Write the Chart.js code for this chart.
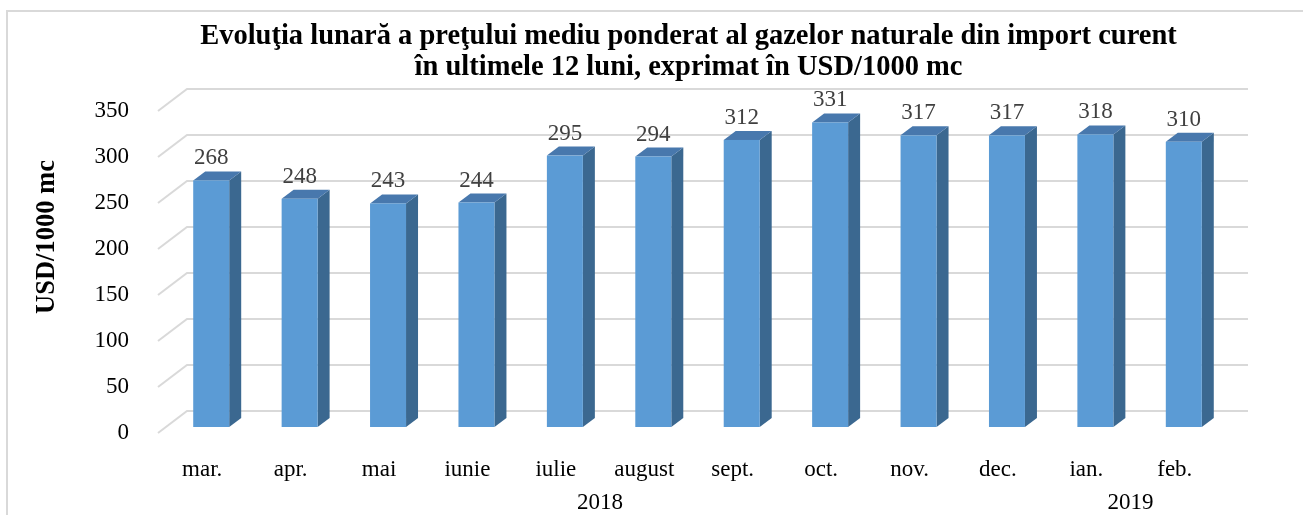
<!DOCTYPE html>
<html>
<head>
<meta charset="utf-8">
<script src="https://cdn.jsdelivr.net/npm/chart.js@4.4.0/dist/chart.umd.min.js"></script>
<style>
    html, body { margin: 0; padding: 0; background: #fff; }
    canvas { display: block; }
</style>
</head>
<body>
<canvas id="gasChart" width="1303" height="515"></canvas>
<script>
const months = ['mar.', 'apr.', 'mai', 'iunie', 'iulie', 'august', 'sept.', 'oct.', 'nov.', 'dec.', 'ian.', 'feb.'];
const prices = [268, 248, 243, 244, 295, 294, 312, 331, 317, 317, 318, 310];
const years = ['2018', '2019'];
const yearFirst = [0, 10];
const yearLast = [9, 11];
const yTicks = [0, 50, 100, 150, 200, 250, 300, 350];
const titleLines = [
    'Evoluţia lunară a preţului mediu ponderat al gazelor naturale din import curent',
    'în ultimele 12 luni, exprimat în USD/1000 mc'
];
const yTitle = 'USD/1000 mc';

const SERIF = '"Liberation Serif", "Times New Roman", serif';
// depth of the back wall and of each bar
const WALL = { dx: 29, dy: 22 };
const BAR = { dx: 12, dy: 9, shiftX: 9, shiftY: 6 };

const frame3d = {
    id: 'frame3d',
    beforeDraw(chart) {
        const ctx = chart.ctx;
        ctx.save();
        ctx.fillStyle = '#fff';
        ctx.fillRect(0, 0, chart.width, chart.height);
        ctx.strokeStyle = '#D9D9D9';
        ctx.lineWidth = 2;
        ctx.strokeRect(7, 11, chart.width + 20, chart.height + 20);
        ctx.restore();
    },
    beforeDatasetsDraw(chart) {
        const { ctx, chartArea } = chart;
        const y = chart.scales.y;
        ctx.save();
        ctx.strokeStyle = '#D9D9D9';
        ctx.lineWidth = 2;
        yTicks.forEach(v => {
            const py = y.getPixelForValue(v);
            ctx.beginPath();
            ctx.moveTo(chartArea.left, py);
            ctx.lineTo(chartArea.left + WALL.dx, py - WALL.dy);
            ctx.lineTo(chartArea.right + WALL.dx, py - WALL.dy);
            ctx.stroke();
        });
        ctx.restore();
    },
    afterDatasetsDraw(chart) {
        const { ctx, chartArea } = chart;
        const meta = chart.getDatasetMeta(0);
        ctx.save();
        meta.data.forEach((bar, i) => {
            const w = bar.width;
            const l = bar.x - w / 2 + BAR.shiftX;
            const r = l + w;
            const t = bar.y - BAR.shiftY;
            const b = bar.base - BAR.shiftY;
            // side
            ctx.fillStyle = '#3B6890';
            ctx.beginPath();
            ctx.moveTo(r, t);
            ctx.lineTo(r + BAR.dx, t - BAR.dy);
            ctx.lineTo(r + BAR.dx, b - BAR.dy);
            ctx.lineTo(r, b);
            ctx.closePath();
            ctx.fill();
            // top
            ctx.fillStyle = '#4878AD';
            ctx.beginPath();
            ctx.moveTo(l, t);
            ctx.lineTo(l + BAR.dx, t - BAR.dy);
            ctx.lineTo(r + BAR.dx, t - BAR.dy);
            ctx.lineTo(r, t);
            ctx.closePath();
            ctx.fill();
            // front
            ctx.fillStyle = '#5B9BD5';
            ctx.fillRect(l, t, w, b - t);
            // value
            ctx.fillStyle = '#404040';
            ctx.font = '23px ' + SERIF;
            ctx.textAlign = 'center';
            ctx.textBaseline = 'alphabetic';
            ctx.fillText(String(prices[i]), l + w / 2, t - 16);
        });

        // year row
        const x = chart.scales.x;
        ctx.fillStyle = '#000';
        ctx.font = '23px ' + SERIF;
        ctx.textAlign = 'center';
        ctx.textBaseline = 'middle';
        years.forEach((yr, k) => {
            const px = (x.getPixelForValue(yearFirst[k]) + x.getPixelForValue(yearLast[k])) / 2;
            ctx.fillText(yr, px, chartArea.bottom + 70);
        });

        // title
        const cx = (chartArea.left + chartArea.right) / 2;
        ctx.font = 'bold 28.5px ' + SERIF;
        ctx.textBaseline = 'alphabetic';
        ctx.fillText(titleLines[0], cx, 44);
        ctx.fillText(titleLines[1], cx, 75);

        // axis title
        ctx.save();
        ctx.translate(47, 237);
        ctx.rotate(-Math.PI / 2);
        ctx.font = 'bold 26.5px ' + SERIF;
        ctx.textBaseline = 'middle';
        ctx.fillText(yTitle, 0, 0);
        ctx.restore();

        ctx.restore();
    }
};

new Chart(document.getElementById('gasChart'), {
    type: 'bar',
    data: {
        labels: months,
        datasets: [{
            data: prices,
            backgroundColor: 'rgba(0,0,0,0)',
            borderWidth: 0,
            categoryPercentage: 1,
            barPercentage: 0.407
        }]
    },
    options: {
        responsive: false,
        animation: false,
        layout: {
            padding: { top: 111, left: 0, right: 84, bottom: 0 }
        },
        plugins: {
            legend: { display: false },
            title: { display: false },
            tooltip: { enabled: false }
        },
        scales: {
            x: {
                grid: { display: false },
                border: { display: false },
                ticks: {
                    color: '#000',
                    padding: 15,
                    font: { family: SERIF, size: 23 }
                },
                afterFit(scale) { scale.height = 82; }
            },
            y: {
                min: 0,
                max: 350,
                grid: { display: false },
                border: { display: false },
                ticks: {
                    stepSize: 50,
                    color: '#000',
                    padding: 21,
                    font: { family: SERIF, size: 23 }
                },
                afterFit(scale) { scale.width = 158; }
            }
        }
    },
    plugins: [frame3d]
});
</script>
</body>
</html>
